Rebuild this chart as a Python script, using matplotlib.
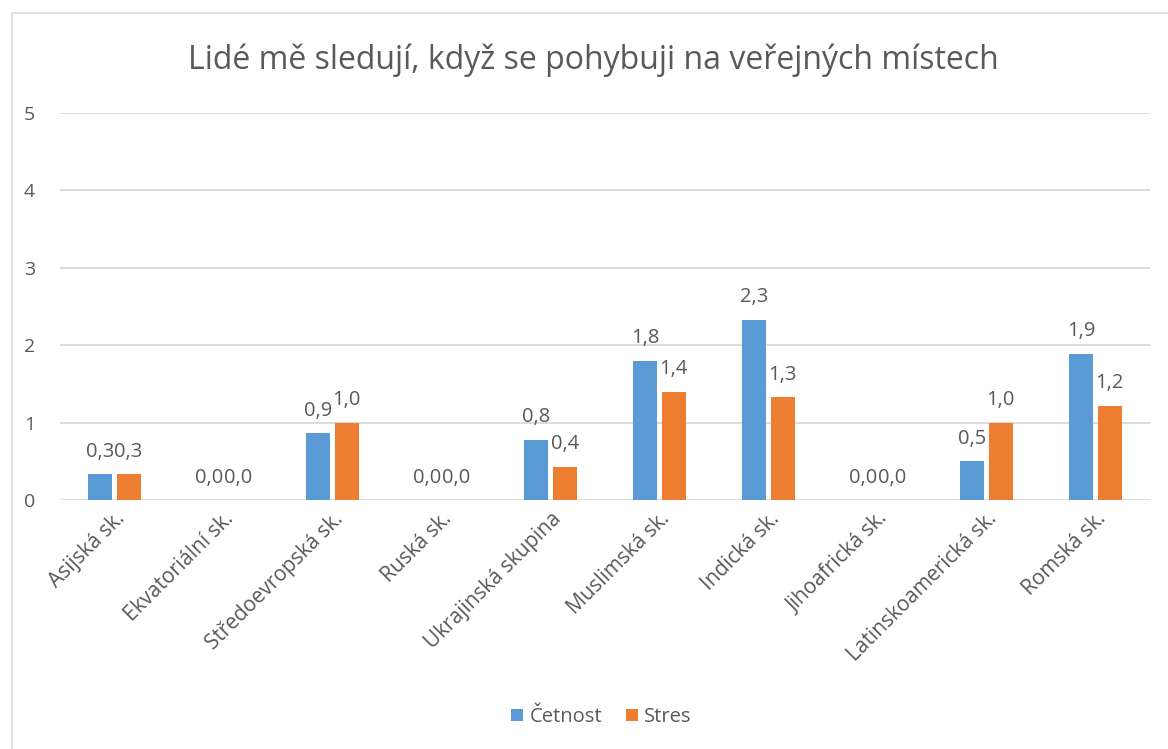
import matplotlib.pyplot as plt
import numpy as np
from matplotlib.patches import Rectangle

categories = ['Asijská sk.', 'Ekvatoriální sk.', 'Středoevropská sk.', 'Ruská sk.',
              'Ukrajinská skupina', 'Muslimská sk.', 'Indická sk.', 'Jihoafrická sk.',
              'Latinskoamerická sk.', 'Romská sk.']
cetnost = [0.33, 0.0, 0.86, 0.0, 0.78, 1.8, 2.33, 0.0, 0.5, 1.89]
stres = [0.33, 0.0, 1.0, 0.0, 0.43, 1.4, 1.33, 0.0, 1.0, 1.22]
title = 'Lidé mě sledují, když se pohybuji na veřejných místech'

plt.rcParams['font.family'] = ['Open Sans', 'DejaVu Sans']
txt = '#595959'
blue = '#5B9BD5'
orange = '#ED7D31'

fig = plt.figure(figsize=(11.68, 7.49), dpi=100)
fig.patches.append(Rectangle((12/1168, -0.01), 1.1, 1 - 13/749 + 0.01, transform=fig.transFigure,
                             fill=False, edgecolor='#D9D9D9', linewidth=1.2))
ax = fig.add_axes([60/1168, 1 - 500/749, 1090/1168, 387/749])

x = np.arange(len(categories))
w = 0.22
gap = 0.02
b1 = ax.bar(x - w/2 - gap, cetnost, w, color=blue, label='Četnost', zorder=3)
b2 = ax.bar(x + w/2 + gap, stres, w, color=orange, label='Stres', zorder=3)

# popisky hodnot nad sloupci
for bars, vals in ((b1, cetnost), (b2, stres)):
    for r, v in zip(bars, vals):
        ax.annotate(f'{v:.1f}'.replace('.', ','), (r.get_x() + r.get_width()/2, v),
                    xytext=(0, 9), textcoords='offset points', ha='center', va='bottom',
                    fontsize=14.5, color=txt)

ax.set_xlim(-0.5, len(categories) - 0.5)
ax.set_ylim(0, 5)
ax.set_yticks(range(6))
ax.yaxis.grid(True, color='#D9D9D9', linewidth=1.3, zorder=0)
for s in ax.spines.values():
    s.set_visible(False)
ax.tick_params(axis='both', length=0, colors=txt, labelsize=14)
ax.tick_params(axis='y', pad=18)
ax.set_xticks(x)
ax.set_xticklabels(categories, rotation=45, ha='right', rotation_mode='anchor')
ax.tick_params(axis='x', pad=6, labelsize=15)

fig.text(0.508, 1 - 60/749, title, ha='center', va='center', fontsize=23, color=txt)
fig.legend(loc='center', bbox_to_anchor=(0.515, 1 - 717/749), ncol=2, frameon=False,
           handlelength=0.6, handleheight=0.6, handletextpad=0.3, columnspacing=1.2,
           fontsize=14.5, labelcolor=txt)

fig.savefig('out.png', dpi=100)
